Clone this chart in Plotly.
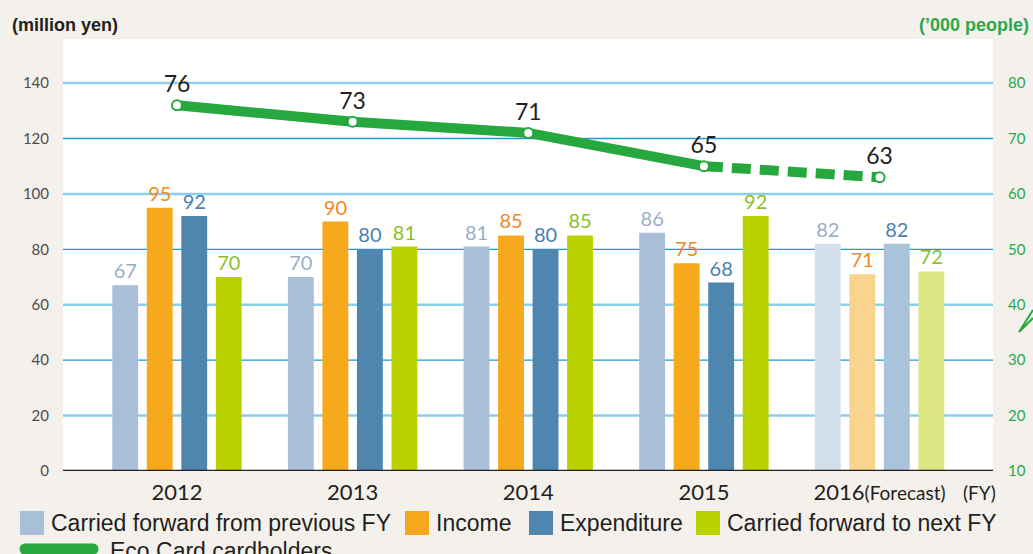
import plotly.graph_objects as go

# ---------------- data ----------------
years = ["2012", "2013", "2014", "2015", "2016"]
tick_labels = ["2012", "2013", "2014", "2015",
               "2016<span style='font-size:19px'>(Forecast)</span>"]
carried_prev = [67, 70, 81, 86, 82]
income = [95, 90, 85, 75, 71]
expenditure = [92, 80, 80, 68, 82]
carried_next = [70, 81, 85, 92, 72]
cardholders = [76, 73, 71, 65, 63]

series_names = ["Carried forward from previous FY", "Income", "Expenditure",
                "Carried forward to next FY"]
bar_colors = ["#A9BFD8", "#F6A91D", "#4F86B0", "#BAD300"]
bar_colors_forecast = ["#D3DFEB", "#F9D48F", "#A9C4DA", "#DCE682"]
label_colors = ["#9AAEC7", "#F08A22", "#4A80B0", "#8CBF26"]
green = "#27A83F"

W, H = 1033, 554
L, R, T, B = 63, 40, 39, 83
pw, ph = W - L - R, H - T - B


def px(x):
    return (x - L) / pw


def py(y):
    return (H - B - y) / ph


xs = list(range(len(years)))
fig = go.Figure()

for vals, name, c, cf, lc in zip([carried_prev, income, expenditure, carried_next],
                                 series_names, bar_colors, bar_colors_forecast, label_colors):
    fig.add_trace(go.Bar(
        x=xs, y=vals, name=name,
        marker=dict(color=[c] * (len(xs) - 1) + [cf], line=dict(width=0)),
        text=[str(v) for v in vals], textposition="outside",
        textfont=dict(family="Lato", size=20, color=lc),
        cliponaxis=False, showlegend=False, hoverinfo="skip",
    ))

# line: solid actual, dashed forecast
fig.add_trace(go.Scatter(
    x=xs[:4], y=cardholders[:4], yaxis="y2", mode="lines",
    line=dict(color=green, width=10), showlegend=False, hoverinfo="skip"))
fig.add_trace(go.Scatter(
    x=xs[3:], y=cardholders[3:], yaxis="y2", mode="lines",
    line=dict(color=green, width=10, dash="19px,9px"), showlegend=False, hoverinfo="skip"))
fig.add_trace(go.Scatter(
    x=xs, y=cardholders, yaxis="y2", mode="markers+text",
    marker=dict(size=10, color="white", line=dict(color=green, width=2)),
    text=[str(v) for v in cardholders], textposition="top center",
    textfont=dict(family="Lato", size=23, color="#231F20"),
    cliponaxis=False, showlegend=False, hoverinfo="skip"))

shapes = []
# gridlines
for v in [20, 40, 60, 80, 100, 120, 140]:
    light = (v // 20) % 2 == 1
    shapes.append(dict(type="line", xref="paper", yref="y", x0=0, x1=1, y0=v, y1=v,
                       line=dict(color="#8BCFEF" if light else "#1E9AD6",
                                 width=2.5 if light else 1.3),
                       layer="below"))
# baseline
shapes.append(dict(type="line", xref="paper", yref="y", x0=0, x1=1, y0=0, y1=0,
                   line=dict(color="#231F20", width=2.5), layer="above"))

# manual legend
leg_row1 = 523
sq = [(20, series_names[0]), (405, series_names[1]), (529, series_names[2]),
      (696, series_names[3])]
annotations = []
for (x0, name), c in zip(sq, bar_colors):
    shapes.append(dict(type="rect", xref="paper", yref="paper",
                       x0=px(x0), x1=px(x0 + 24), y0=py(leg_row1 + 12), y1=py(leg_row1 - 12),
                       fillcolor=c, line=dict(width=0)))
    annotations.append(dict(xref="paper", yref="paper", x=px(x0 + 29), y=py(leg_row1),
                            text=name, showarrow=False, xanchor="left", yanchor="middle",
                            font=dict(family="Liberation Sans", size=23, color="#231F20")))
shapes.append(dict(type="line", xref="paper", yref="paper",
                   x0=px(25), x1=px(93), y0=py(549), y1=py(549),
                   line=dict(color=green, width=11)))
for cx in (25, 93):
    shapes.append(dict(type="circle", xref="paper", yref="paper",
                       x0=px(cx - 5.5), x1=px(cx + 5.5), y0=py(549 + 5.5), y1=py(549 - 5.5),
                       fillcolor=green, line=dict(width=0)))
annotations.append(dict(xref="paper", yref="paper", x=px(108), y=py(551),
                        text="Eco Card cardholders", showarrow=False, xanchor="left",
                        yanchor="middle",
                        font=dict(family="Liberation Sans", size=23, color="#231F20")))

# titles
annotations.append(dict(xref="paper", yref="paper", x=px(10), y=py(25),
                        text="<b>(million yen)</b>", showarrow=False, xanchor="left", yanchor="middle",
                        font=dict(family="Liberation Sans", size=18, color="#231F20")))
annotations.append(dict(xref="paper", yref="paper", x=px(1031), y=py(25),
                        text="<b>(’000 people)</b>", showarrow=False, xanchor="right", yanchor="middle",
                        font=dict(family="Liberation Sans", size=18, color="#2BA84A")))
annotations.append(dict(xref="paper", yref="paper", x=px(998), y=py(493),
                        text="(FY)", showarrow=False, xanchor="right", yanchor="middle",
                        font=dict(family="Lato", size=19, color="#231F20")))

# small decorative arrow tip at right edge
shapes.append(dict(type="path", xref="paper", yref="paper",
                   path=f"M {px(1019)} {py(332)} L {px(1033)} {py(310)} M {px(1019)} {py(332)} L {px(1033)} {py(318)}",
                   line=dict(color=green, width=2)))

fig.update_layout(
    width=W, height=H,
    margin=dict(l=L, r=R, t=T, b=B, autoexpand=False),
    paper_bgcolor="#F4F1EC", plot_bgcolor="white",
    barmode="group", bargap=0.214, bargroupgap=0.25,
    xaxis=dict(range=[-0.649, 4.646], tickmode="array", tickvals=xs, ticktext=tick_labels,
               showgrid=False, zeroline=False, showline=False, ticks="", automargin=False,
               tickfont=dict(family="Lato", size=22, color="#231F20"),
               ticklabelstandoff=6),
    yaxis=dict(range=[0, 155.9], tickmode="array", tickvals=[0, 20, 40, 60, 80, 100, 120, 140],
               showgrid=False, zeroline=False, showline=False, ticks="", automargin=False,
               tickfont=dict(family="Lato", size=15, color="#4D4D4D"),
               ticklabelstandoff=13),
    yaxis2=dict(range=[10, 87.94], overlaying="y", side="right", tickmode="array",
                tickvals=[10, 20, 30, 40, 50, 60, 70, 80], automargin=False,
                showgrid=False, zeroline=False, showline=False, ticks="",
                tickfont=dict(family="Lato", size=15, color="#2BA84A"),
                ticklabelstandoff=14),
    shapes=shapes, annotations=annotations,
)

fig.write_html("out.html", config={"displayModeBar": False},
               post_script="document.body.style.margin='0';document.body.style.overflow='hidden';")
